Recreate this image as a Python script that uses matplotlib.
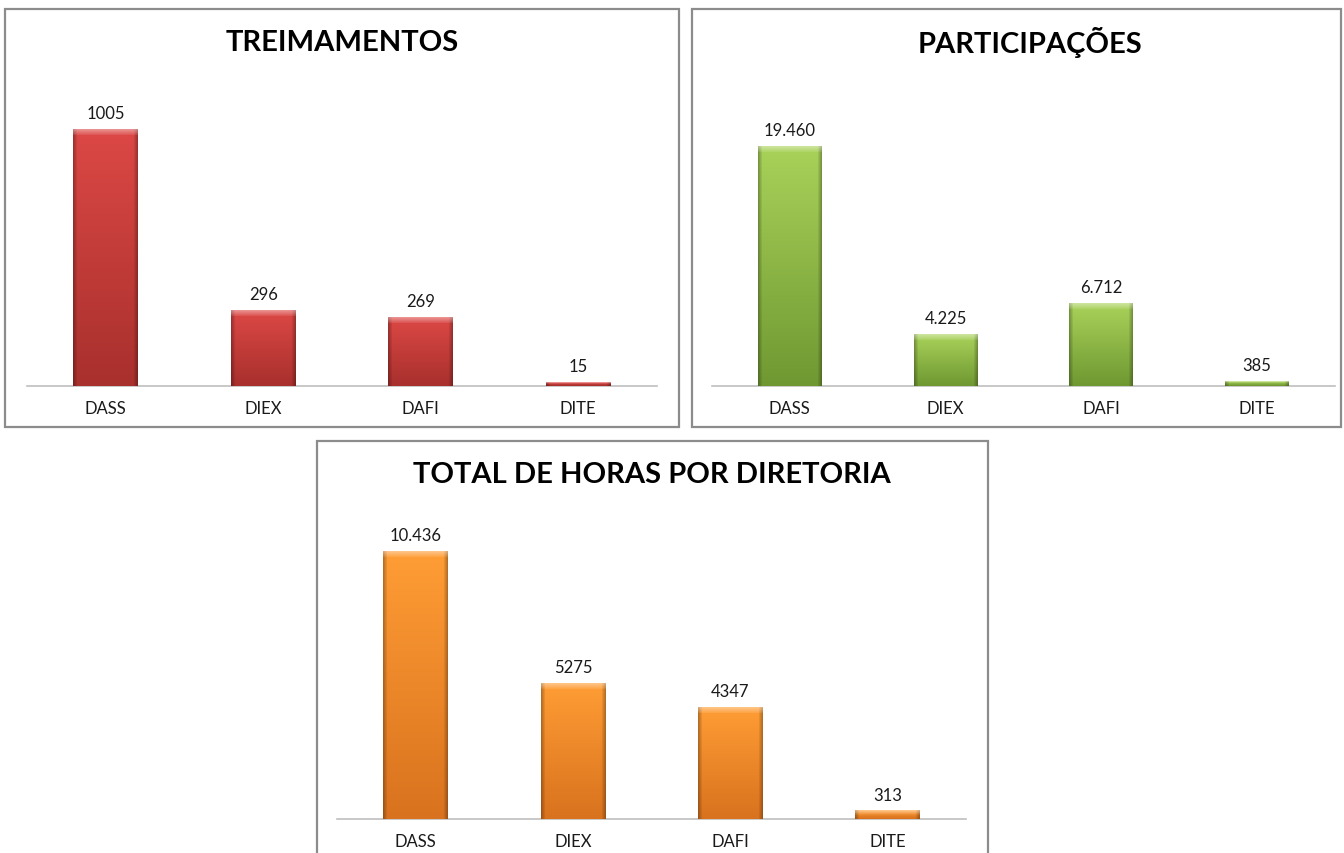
import matplotlib
matplotlib.use("Agg")
import matplotlib.pyplot as plt
from matplotlib.patches import Rectangle
from matplotlib.colors import to_rgb
import numpy as np

plt.rcParams['font.family'] = ['Lato', 'DejaVu Sans']

# data
categories = ["DASS", "DIEX", "DAFI", "DITE"]

treinamentos = [1005, 296, 269, 15]
treinamentos_labels = ["1005", "296", "269", "15"]

participacoes = [19460, 4225, 6712, 385]
participacoes_labels = ["19.460", "4.225", "6.712", "385"]

horas = [10436, 5275, 4347, 313]
horas_labels = ["10.436", "5275", "4347", "313"]

W, H = 1344, 854
fig = plt.figure(figsize=(W / 100, H / 100), dpi=100)


def px_box(x0, y0, x1, y1):
    # pixel box (top-left origin) -> figure fraction rect
    return [x0 / W, 1 - y1 / H, (x1 - x0) / W, (y1 - y0) / H]


def bevel_image(top, bottom, h_px, w_px=64):
    ny = max(int(round(h_px)), 2)
    nx = w_px
    top = np.array(to_rgb(top))
    bottom = np.array(to_rgb(bottom))
    t = np.linspace(0, 1, ny)[:, None, None]
    img = top * (1 - t) + bottom * t
    img = np.repeat(img, nx, axis=1)
    # darker sides
    edge = 4
    shade = np.ones(nx)
    shade[:edge] = np.linspace(0.72, 0.92, edge)
    shade[-edge:] = np.linspace(0.92, 0.72, edge)
    img = img * shade[None, :, None]
    # light top bevel
    bev = min(6, ny // 2)
    if bev > 0:
        light = np.linspace(0.4, 0.1, bev)[:, None, None]
        img[:bev] = img[:bev] * (1 - light) + light
    return np.clip(img, 0, 1)


def panel(box, border, values, labels, title, title_xy, top, bottom, headroom):
    # border around the chart area
    x0, y0, x1, y1 = border
    fig.patches.append(Rectangle((x0 / W, 1 - y1 / H), (x1 - x0) / W, (y1 - y0) / H,
                                 transform=fig.transFigure, fill=False,
                                 edgecolor="#8c8c8c", linewidth=1.6))
    fig.text(title_xy[0] / W, 1 - title_xy[1] / H, title, ha="center", va="center",
             fontsize=21, fontweight="bold", color="black")

    ax = fig.add_axes(px_box(*box))
    x = np.arange(len(categories))
    bars = ax.bar(x, values, width=0.41, color=top, edgecolor="none", zorder=2)
    ymax = max(values) * headroom
    ax_h_px = box[3] - box[1]
    for b, v, lab in zip(bars, values, labels):
        bx, bw = b.get_x(), b.get_width()
        h_px = v / ymax * ax_h_px
        img = bevel_image(top, bottom, h_px)
        ax.imshow(img, extent=[bx, bx + bw, 0, v], aspect="auto", zorder=3,
                  interpolation="bilinear")
        ax.annotate(lab, (bx + bw / 2, v), xytext=(0, 6), textcoords="offset points",
                    ha="center", va="bottom", fontsize=12, color="#1a1a1a")
    ax.set_xlim(-0.5, len(categories) - 0.5)
    ax.set_ylim(0, ymax)
    ax.set_xticks(x)
    ax.set_xticklabels(categories, fontsize=12, color="#1a1a1a")
    ax.tick_params(axis="x", length=0, pad=10)
    ax.set_yticks([])
    for s in ["top", "left", "right"]:
        ax.spines[s].set_visible(False)
    ax.spines["bottom"].set_color("#bfbfbf")
    ax.spines["bottom"].set_linewidth(1.2)
    ax.patch.set_alpha(0)
    return ax


panel((27, 100, 657, 387), (5, 10, 679, 428), treinamentos, treinamentos_labels,
      "TREIMAMENTOS", (342, 43), "#dc4845", "#a8302d", 1.117)
panel((712, 100, 1335, 387), (692, 10, 1341, 428), participacoes, participacoes_labels,
      "PARTICIPAÇÕES", (1030, 43), "#a9d25a", "#6f9832", 1.20)
panel((337, 520, 966, 820), (317, 442, 988, 870), horas, horas_labels,
      "TOTAL DE HORAS POR DIRETORIA", (652, 475), "#ff9d35", "#d9721e", 1.12)

fig.savefig("out.png", dpi=100, facecolor="white")
